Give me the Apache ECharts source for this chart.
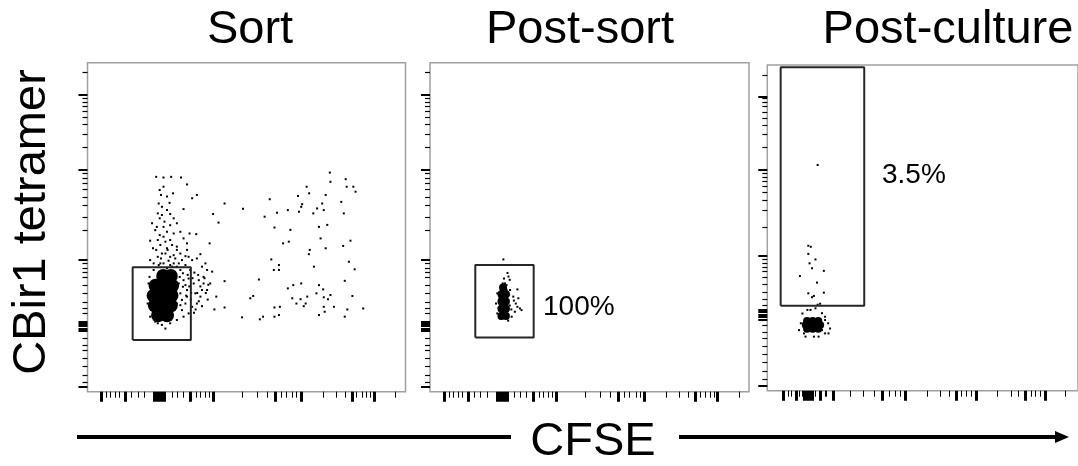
<!DOCTYPE html>
<html>
<head>
<meta charset="utf-8">
<title>CBir1 tetramer vs CFSE</title>
<script src="https://cdn.jsdelivr.net/npm/echarts@6/dist/echarts.min.js"></script>
<style>
  html, body { margin: 0; padding: 0; background: #fff; }
  #main { width: 1078px; height: 466px; }
</style>
</head>
<body>
<div id="main"></div>
<script>
// panel names and gate frequencies
var panelTitles = ['Sort', 'Post-sort', 'Post-culture'];
var gateLabels = ['', '100%', '3.5%'];

// axis ticks, channel units 0-1000 (biexponential display)
var xMajor = [44, 120, 210, 218, 226, 234, 242, 323, 397, 589, 671, 831, 901];
var xMinor = [60, 73, 88, 101, 138, 159, 178, 265, 282, 302, 342, 355, 371, 384, 486, 535, 566, 608, 626, 645, 658, 742, 781, 809, 846, 864, 878, 890, 969];
var yMajor = [15, 185, 192, 199, 206, 213, 400, 675, 903];
var yMinor = [30, 51, 76, 101, 127, 142, 162, 238, 253, 273, 299, 324, 349, 362, 375, 390, 491, 531, 566, 592, 614, 633, 649, 663, 744, 783, 813, 834, 852, 867, 881, 893, 970];
var cultXMajor = [52, 93, 120, 128, 136, 144, 171, 212, 370, 444, 608, 673, 831, 895];
var cultXMinor = [69, 76, 103, 111, 155, 186, 191, 268, 309, 345, 394, 412, 427, 515, 557, 586, 625, 641, 656, 740, 784, 808, 850, 863, 878, 959];
var cultYMajor = [15, 218, 226, 234, 242, 250, 415, 677, 903];
var cultYMinor = [36, 61, 87, 112, 138, 161, 179, 200, 261, 280, 302, 328, 348, 366, 379, 392, 405, 502, 554, 584, 608, 629, 643, 656, 667, 748, 786, 815, 838, 856, 872, 885, 898, 969];

// gates [xMin, xMax, yMin, yMax]
var sortGate = [142, 325, 157, 378];
var postSortGate = [142, 325, 165, 385];
var cultureGate = [43, 312, 261, 993];

// events (CFSE, CBir1 tetramer)
var sortCore = [[238, 352], [262, 352], [214, 322], [240, 322], [266, 322], [208, 292], [236, 292], [264, 292],
  [212, 262], [238, 262], [262, 262], [222, 232], [250, 232]];
var sortDots = [[216, 653], [239, 651], [263, 653], [294, 651], [313, 630], [227, 613], [239, 623], [231, 598], [250, 593],
  [269, 603], [344, 598], [329, 588], [224, 572], [234, 562], [250, 552], [221, 542], [260, 540], [302, 555], [227, 527],
  [242, 517], [281, 512], [203, 512], [218, 501], [250, 486], [271, 481], [239, 471], [260, 461], [221, 461], [321, 481],
  [342, 479], [197, 459], [229, 446], [252, 431], [281, 441], [313, 451], [260, 410], [292, 420], [308, 412], [197, 400],
  [221, 410], [239, 390], [271, 390], [318, 410], [344, 405], [355, 418], [371, 390], [384, 451], [395, 540], [412, 514],
  [431, 572], [489, 556], [573, 585], [557, 532], [596, 544], [630, 552], [662, 595], [689, 623], [697, 603], [675, 570],
  [665, 547], [672, 562], [710, 542], [722, 557], [738, 572], [749, 598], [743, 552], [764, 638], [762, 666], [812, 646],
  [815, 623], [836, 623], [843, 608], [798, 577], [806, 542], [754, 507], [728, 501], [733, 466], [699, 431], [696, 418],
  [638, 492], [615, 451], [633, 456], [588, 499], [578, 402], [586, 370], [602, 370], [602, 385], [712, 380], [749, 436],
  [804, 443], [827, 459], [822, 395], [840, 372], [809, 337], [672, 329], [647, 324], [630, 314], [728, 324], [741, 311],
  [720, 299], [764, 294], [756, 281], [743, 287], [691, 289], [670, 281], [657, 268], [680, 260], [588, 256], [605, 258],
  [602, 233], [588, 228], [542, 220], [486, 226], [521, 291], [512, 284], [539, 341], [431, 336], [431, 256], [399, 250],
  [405, 289], [386, 329], [376, 309], [365, 349], [360, 380], [376, 370], [392, 365], [833, 291], [817, 250], [809, 228],
  [867, 253], [728, 233], [746, 243], [743, 258], [775, 258], [644, 284], [552, 228], [686, 268],
  [323, 370], [334, 329], [339, 299], [350, 339], [360, 309], [355, 289], [365, 329], [344, 268], [329, 258], [318, 238],
  [302, 228], [313, 309], [336, 362], [308, 385], [281, 380], [297, 400], [192, 329], [189, 268], [197, 228], [213, 213],
  [234, 203], [260, 208], [281, 218], [297, 248], [308, 268], [313, 289], [302, 339], [292, 370], [260, 385], [229, 390],
  [208, 370], [195, 349], [245, 192], [221, 208], [287, 329], [292, 299], [297, 279], [281, 268], [308, 324], [318, 344],
  [290, 349], [300, 319], [279, 304], [292, 263], [320, 320], [330, 345], [345, 300], [350, 275], [340, 250], [325, 280],
  [315, 355], [355, 320], [368, 345], [372, 300], [380, 325], [378, 280], [360, 260], [335, 240], [348, 355], [326, 300],
  [300, 360], [310, 292],
  [216, 431], [245, 420], [231, 405], [255, 398], [276, 405], [287, 390], [224, 385], [250, 375], [266, 380], [208, 390],
  [281, 431], [266, 446], [245, 456], [227, 476], [239, 501], [260, 506], [213, 491], [271, 527], [258, 574], [234, 537],
  [302, 466], [292, 486], [206, 436], [313, 431], [329, 400], [250, 436], [234, 420], [271, 415]];

var postSortCore = [[224, 230], [238, 230], [224, 252], [238, 252], [231, 241], [224, 274], [238, 274], [231, 263],
  [231, 285], [224, 296], [238, 296], [231, 307], [229, 317]];
var postSortDots = [[230, 402], [243, 361], [232, 344], [228, 329], [240, 324], [251, 309], [274, 311], [261, 289],
  [277, 284], [269, 268], [282, 253], [266, 243], [256, 228], [211, 238], [207, 268], [211, 299], [219, 223], [245, 216],
  [235, 329], [274, 258], [263, 277], [287, 248], [250, 262], [248, 295], [255, 250], [244, 236], [215, 255], [218, 285],
  [250, 340], [246, 350]];

var cultureCore = [[128, 190], [146, 190], [164, 190], [124, 202], [137, 202], [150, 202], [163, 202], [170, 202],
  [128, 214], [146, 214], [164, 214]];
var cultureDots = [[132, 445], [140, 442], [132, 420], [155, 403], [136, 391], [144, 376], [182, 368], [105, 352],
  [160, 332], [132, 299], [150, 291], [182, 301], [144, 287], [162, 264], [170, 267], [162, 693],
  [102, 186], [113, 237], [129, 248], [197, 176], [202, 191], [186, 227], [176, 238], [155, 253], [139, 248], [123, 166],
  [165, 166], [186, 176], [196, 207], [108, 207], [118, 176], [176, 186], [150, 166], [186, 217]];

var FONT = '"Liberation Sans", Arial, Helvetica, sans-serif';

function makeAxis(g, pos, ticks, len, width) {
  return {
    type: 'value', gridIndex: g, position: pos, min: 0, max: 1000,
    axisLine: { show: false, onZero: false },
    axisLabel: { show: false },
    splitLine: { show: false },
    axisTick: { show: true, customValues: ticks, length: len, lineStyle: { color: '#000', width: width } }
  };
}

function gatePath(gate) {
  return [[gate[0], gate[2]], [gate[1], gate[2]], [gate[1], gate[3]], [gate[0], gate[3]], [gate[0], gate[2]]];
}

var panels = [
  { grid: { left: 87.5, top: 62.7, width: 318, height: 329 }, xM: xMajor, xm: xMinor, yM: yMajor, ym: yMinor,
    gate: sortGate, core: sortCore, coreSize: 14, dots: sortDots },
  { grid: { left: 430, top: 62.7, width: 319, height: 329 }, xM: xMajor, xm: xMinor, yM: yMajor, ym: yMinor,
    gate: postSortGate, core: postSortCore, coreSize: 8, dots: postSortDots },
  { grid: { left: 767.3, top: 65, width: 319, height: 325.7 }, xM: cultXMajor, xm: cultXMinor, yM: cultYMajor, ym: cultYMinor,
    gate: cultureGate, core: cultureCore, coreSize: 8, dots: cultureDots }
];

var grids = [], xAxes = [], yAxes = [], series = [];
panels.forEach(function (p, i) {
  grids.push({ left: p.grid.left, top: p.grid.top, width: p.grid.width, height: p.grid.height,
    show: true, borderColor: '#a0a0a0', borderWidth: 1.5, backgroundColor: 'transparent' });
  xAxes.push(makeAxis(i, 'bottom', p.xm, 6, 1));
  xAxes.push(makeAxis(i, 'bottom', p.xM, 10, 3));
  yAxes.push(makeAxis(i, 'left', p.ym, 5, 1.2));
  yAxes.push(makeAxis(i, 'left', p.yM, 9, 2));
  var ax = i * 2 + 1;
  series.push({ type: 'scatter', xAxisIndex: ax, yAxisIndex: ax, data: p.core, symbol: 'circle',
    symbolSize: p.coreSize, itemStyle: { color: '#000', opacity: 1 }, silent: true });
  series.push({ type: 'scatter', xAxisIndex: ax, yAxisIndex: ax, data: p.dots, symbol: 'rect',
    symbolSize: 2, itemStyle: { color: '#000', opacity: 1 }, silent: true });
  series.push({ type: 'line', xAxisIndex: ax, yAxisIndex: ax, data: gatePath(p.gate), symbol: 'none',
    lineStyle: { color: '#262626', width: 2 }, silent: true, z: 3 });
});

var titleX = [250, 580, 948];
var graphics = [];
panelTitles.forEach(function (t, i) {
  graphics.push({ type: 'text', x: titleX[i], y: 30,
    style: { text: t, font: '47px ' + FONT, fill: '#000', align: 'center', verticalAlign: 'middle' } });
});
graphics.push({ type: 'text', x: 543, y: 307,
  style: { text: gateLabels[1], font: '28px ' + FONT, fill: '#000', align: 'left', verticalAlign: 'middle' } });
graphics.push({ type: 'text', x: 882, y: 175,
  style: { text: gateLabels[2], font: '28px ' + FONT, fill: '#000', align: 'left', verticalAlign: 'middle' } });
graphics.push({ type: 'text', x: 32, y: 222, rotation: Math.PI / 2,
  style: { text: 'CBir1 tetramer', font: '47px ' + FONT, fill: '#000', align: 'center', verticalAlign: 'middle' } });
graphics.push({ type: 'text', x: 593, y: 442,
  style: { text: 'CFSE', font: '47px ' + FONT, fill: '#000', align: 'center', verticalAlign: 'middle' } });
// CFSE arrow
graphics.push({ type: 'line', shape: { x1: 77, y1: 437, x2: 511, y2: 437 }, style: { stroke: '#000', lineWidth: 4 } });
graphics.push({ type: 'line', shape: { x1: 679, y1: 437, x2: 1058, y2: 437 }, style: { stroke: '#000', lineWidth: 4 } });
graphics.push({ type: 'polygon', shape: { points: [[1055, 431], [1069, 437], [1055, 443]] }, style: { fill: '#000' } });

var option = {
  animation: false,
  backgroundColor: '#fff',
  grid: grids,
  xAxis: xAxes,
  yAxis: yAxes,
  series: series,
  graphic: graphics
};

var myChart = echarts.init(document.getElementById('main'));
myChart.setOption(option);
</script>
</body>
</html>
